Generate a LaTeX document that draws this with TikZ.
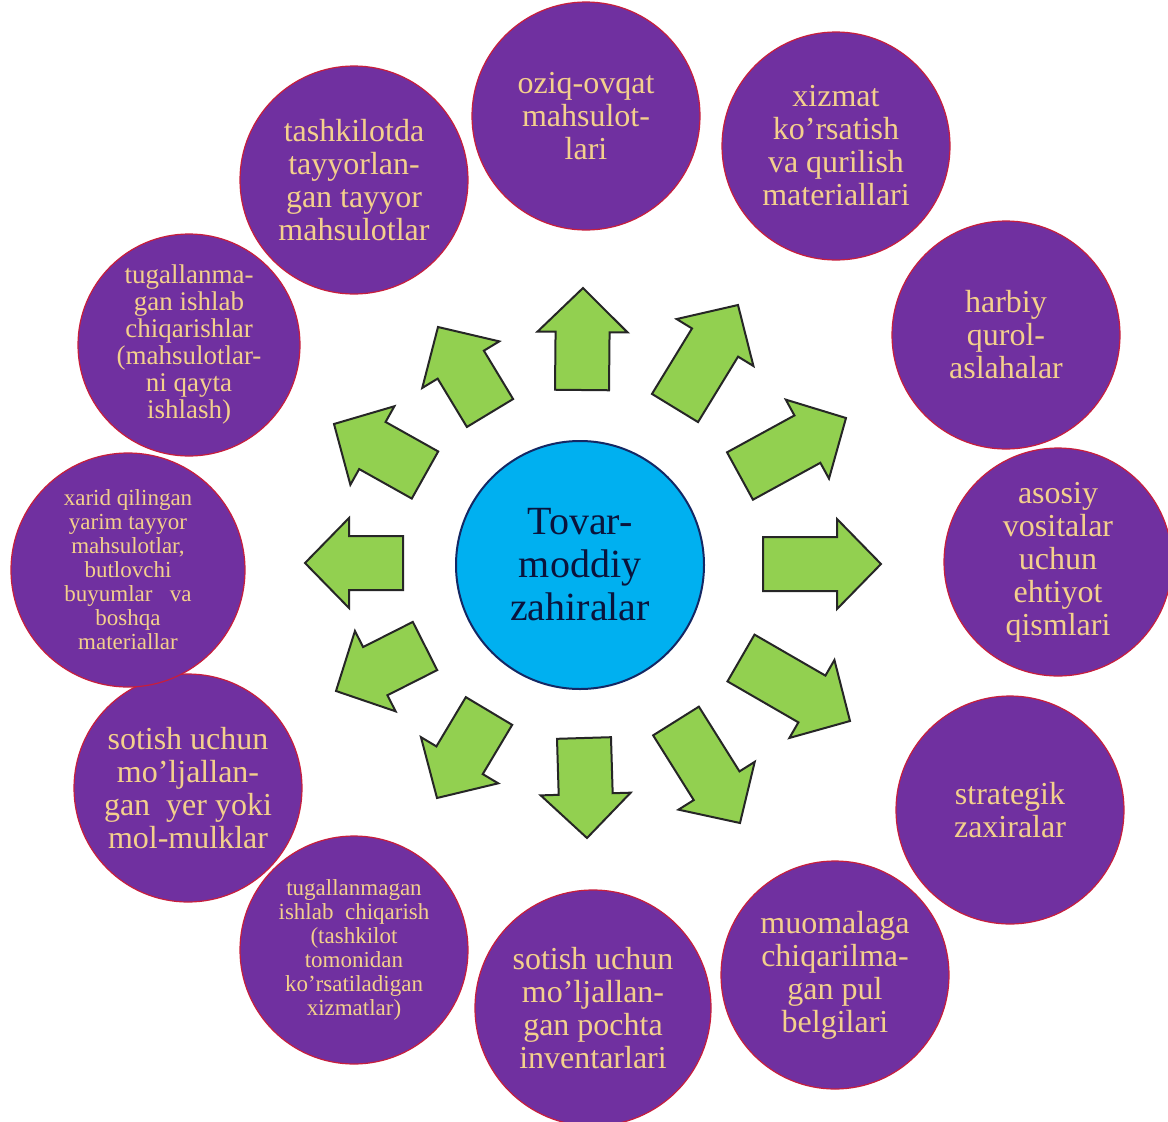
\documentclass[tikz,border=0pt]{standalone}
\usepackage{fontspec}
\setmainfont{Liberation Serif}
\usetikzlibrary{calc}
\definecolor{purp}{RGB}{112,48,160}
\definecolor{gold}{RGB}{244,208,140}
\definecolor{rim}{RGB}{200,30,60}
\definecolor{sky}{RGB}{0,176,240}
\definecolor{navy}{RGB}{20,40,100}
\definecolor{hubtext}{RGB}{10,20,60}
\definecolor{leaf}{RGB}{146,208,80}
\tikzset{
  outer/.style={circle, fill=purp, draw=rim, line width=1.2pt, text=gold,
    align=center, minimum size=228pt, inner sep=0pt,
    font=\fontsize{32}{33}\selectfont},
  smalltext/.style={font=\fontsize{23}{24}\selectfont},
  midtext/.style={font=\fontsize{27}{27}\selectfont},
  hub/.style={circle, fill=sky, draw=navy, line width=2pt, minimum size=248pt,
    inner sep=0pt, text=hubtext, align=center, font=\fontsize{40}{43}\selectfont},
  blockarrow/.style={fill=leaf, draw=black!85, line width=2pt, line join=miter},
}
\newcommand\greenarrow[3]{%
  \coordinate (#1b) at (#2);
  \coordinate (#1t) at (#3);
  \coordinate (#1h) at ($(#1t)!44pt!(#1b)$);
  \draw[blockarrow] ($(#1b)!27pt!90:(#1t)$) -- ($(#1h)!27pt!90:(#1t)$)
    -- ($(#1h)!45pt!90:(#1t)$) -- (#1t) -- ($(#1h)!45pt!-90:(#1t)$)
    -- ($(#1h)!27pt!-90:(#1t)$) -- ($(#1b)!27pt!-90:(#1t)$) -- cycle;
}
\begin{document}
\begin{tikzpicture}[x=1pt, y=-1pt]
\useasboundingbox (0,0) rectangle (1168,1122);
\clip (0,0) rectangle (1168,1122);
\fill[white] (0,0) rectangle (1168,1122);

% centre
\node[hub] (hub) at (580,565) {Tovar-\\moddiy\\zahiralar};

% outer circles
\node[outer] (c1) at (586,116) {oziq-ovqat\\mahsulot-\\lari};
\node[outer] (c2) at (836,146) {xizmat\\ko’rsatish\\va qurilish\\materiallari};
\node[outer] (c3) at (1006,335) {harbiy\\qurol-\\aslahalar};
\node[outer] (c4) at (1058,562) {asosiy\\vositalar\\uchun\\ehtiyot\\qismlari};
\node[outer] (c5) at (1010,810) {strategik\\zaxiralar};
\node[outer] (c6) at (835,975) {muomalaga\\chiqarilma-\\gan pul\\belgilari};
\node[outer, minimum size=236pt] (c7) at (593,1008) {sotish uchun\\mo’ljallan-\\gan pochta\\inventarlari};
\node[outer, smalltext] (c8) at (354,950) {tugallanmagan\\ishlab\ \ chiqarish\\(tashkilot\\tomonidan\\ko’rsatiladigan\\xizmatlar)};
\node[outer] (c9) at (188,788) {sotish uchun\\mo’ljallan-\\gan\ \ yer yoki\\mol-mulklar};
\node[outer, smalltext, minimum size=234pt] (c10) at (128,570) {xarid qilingan\\yarim tayyor\\mahsulotlar,\\butlovchi\\buyumlar\ \ \ va\\boshqa\\materiallar};
\node[outer, midtext, minimum size=222pt] (c11) at (189,345) {tugallanma-\\gan ishlab\\chiqarishlar\\(mahsulotlar-\\ni qayta\\ishlash)};
\node[outer] (c12) at (354,180) {tashkilotda\\tayyorlan-\\gan tayyor\\mahsulotlar};

% arrows
\greenarrow{a1}{582,390}{583,288}
\greenarrow{a2}{675,408}{738,305}
\greenarrow{a3}{740,476}{846,418}
\greenarrow{a4}{763,564}{881,564}
\greenarrow{a5}{741,658}{850,721}
\greenarrow{a6}{676,721}{740,823}
\greenarrow{a7}{584,738}{587,838}
\greenarrow{a8}{489,711}{437,798}
\greenarrow{a9}{425,646}{336,691}
\greenarrow{a10}{403,563}{305,563}
\greenarrow{a11}{425,475}{334,424}
\greenarrow{a12}{490,413}{438,327}
\end{tikzpicture}
\end{document}
